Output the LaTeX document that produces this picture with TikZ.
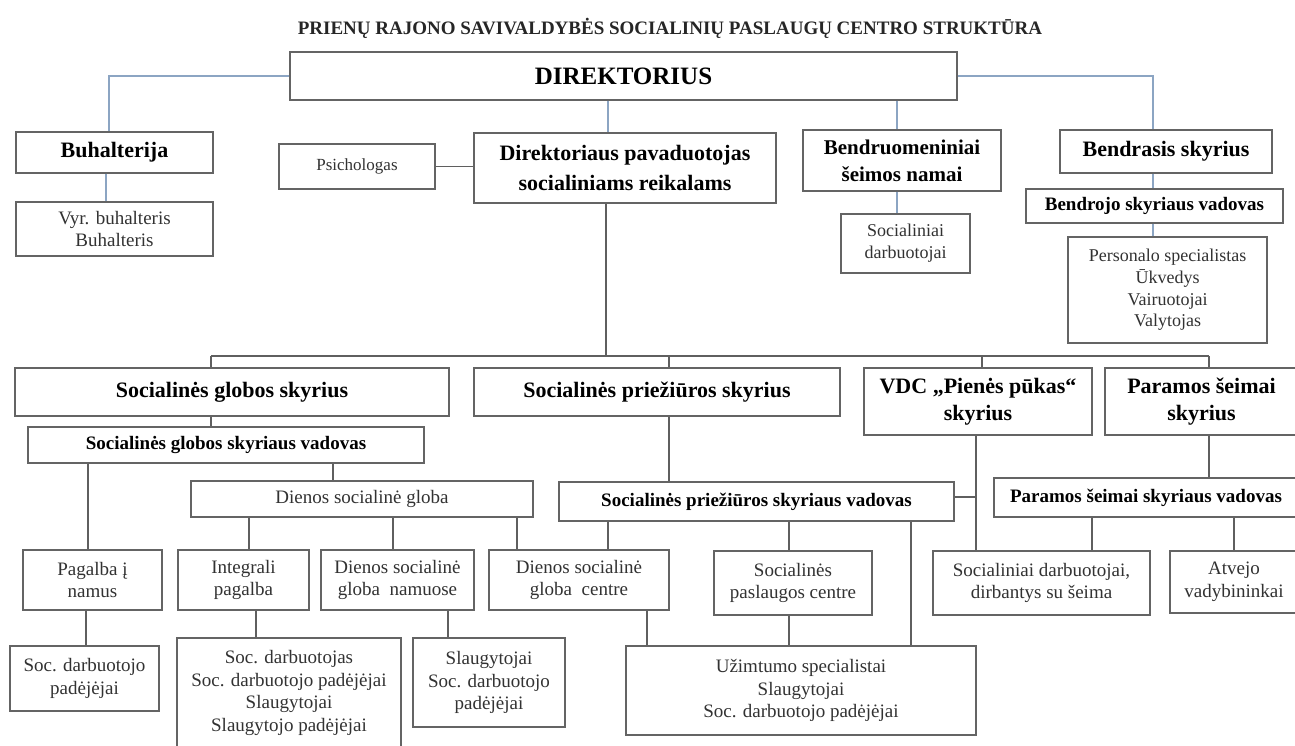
\documentclass[tikz,border=0pt]{standalone}
\usepackage{fontspec}
\setmainfont{Liberation Serif}
\definecolor{boxc}{RGB}{100,100,100}
\definecolor{linec}{RGB}{95,95,95}
\definecolor{bluec}{RGB}{140,165,195}
\definecolor{txtc}{RGB}{50,50,50}
\newcommand\bx[7]{\node[#6,minimum width={#4-#2},minimum height={#5-#3}] (#1) at ({(#2+#4)/2},{(#3+#5)/2}) {#7};}
\begin{document}
\begin{tikzpicture}[x=1pt,y=-1pt,
 box/.style={draw=boxc,line width=1.3pt,inner sep=0pt,align=center,text=txtc,font=\fontsize{19}{22.5}\selectfont},
 hb/.style={box,text=black,font=\fontsize{22}{28}\selectfont\bfseries},
 sb/.style={box,text=black,font=\fontsize{19}{22}\selectfont\bfseries},
 rb/.style={box},
 conn/.style={draw=linec,line width=1.2pt},
 bconn/.style={draw=bluec,line width=1.2pt}]
\useasboundingbox (0,0) rectangle (1295,746);
\fill[white] (0,0) rectangle (1295,746);
\node[font=\fontsize{19}{22}\selectfont\bfseries,text=black!85] (title) at (670,28) {PRIENŲ RAJONO SAVIVALDYBĖS SOCIALINIŲ PASLAUGŲ CENTRO STRUKTŪRA};
% boxes
\bx{dir}{290}{52}{957}{100}{box,text=black,font=\fontsize{25}{30}\selectfont\bfseries}{DIREKTORIUS}
\bx{buh}{16}{132}{213}{173}{hb}{Buhalterija}
\bx{vyr}{16}{202}{213}{256}{rb}{Vyr. buhalteris\\Buhalteris}
\bx{psi}{279}{144}{435}{189}{rb,font=\fontsize{17}{20}\selectfont}{Psichologas}
\bx{dp}{474}{133}{776}{203}{hb,font=\fontsize{22}{30}\selectfont\bfseries}{Direktoriaus pavaduotojas\\socialiniams reikalams}
\bx{ben}{803}{130}{1001}{191}{hb,font=\fontsize{21}{27}\selectfont\bfseries}{Bendruomeniniai\\šeimos namai}
\bx{socd}{841}{214}{970}{273}{rb,font=\fontsize{18}{22}\selectfont}{Socialiniai\\darbuotojai}
\bx{bs}{1060}{130}{1272}{173}{hb}{Bendrasis skyrius}
\bx{bsv}{1026}{189}{1283}{223}{sb}{Bendrojo skyriaus vadovas}
\bx{pers}{1068}{237}{1267}{343}{rb,font=\fontsize{18}{21.7}\selectfont}{Personalo specialistas\\Ūkvedys\\Vairuotojai\\Valytojas}
\bx{sgs}{15}{368}{449}{416}{hb}{Socialinės globos skyrius}
\bx{sps}{474}{368}{840}{416}{hb}{Socialinės priežiūros skyrius}
\bx{vdc}{864}{368}{1092}{435}{hb,font=\fontsize{22}{27}\selectfont\bfseries}{VDC „Pienės pūkas“\\skyrius}
\bx{par}{1105}{368}{1298}{435}{hb,font=\fontsize{22}{27}\selectfont\bfseries}{Paramos šeimai\\skyrius}
\bx{sgv}{28}{427}{424}{463}{sb}{Socialinės globos skyriaus vadovas}
\bx{dsg}{191}{481}{533}{517}{rb}{Dienos socialinė globa}
\bx{spv}{559}{482}{954}{521}{sb}{Socialinės priežiūros skyriaus vadovas}
\bx{pav}{994}{478}{1298}{517}{sb}{Paramos šeimai skyriaus vadovas}
\bx{pag}{23}{550}{162}{610}{rb}{Pagalba į\\namus}
\bx{int}{178}{550}{309}{610}{rb}{Integrali\\pagalba}
\bx{dsn}{321}{550}{474}{610}{rb}{Dienos socialinė\\globa~ namuose}
\bx{dsc}{489}{550}{669}{610}{rb}{Dienos socialinė\\globa~ centre}
\bx{spc}{714}{551}{872}{615}{rb}{Socialinės\\paslaugos centre}
\bx{sdsf}{933}{551}{1150}{615}{rb}{Socialiniai darbuotojai,\\dirbantys su šeima}
\bx{atv}{1170}{551}{1298}{613}{rb}{Atvejo\\vadybininkai}
\bx{sdp}{10}{646}{159}{711}{rb}{Soc. darbuotojo\\padėjėjai}
\bx{sdl}{177}{638}{401}{748}{rb}{Soc. darbuotojas\\Soc. darbuotojo padėjėjai\\Slaugytojai\\Slaugytojo padėjėjai}
\bx{slg}{413}{638}{565}{727}{rb}{Slaugytojai\\Soc. darbuotojo\\padėjėjai}
\bx{uzi}{626}{646}{976}{735}{rb}{Užimtumo specialistai\\Slaugytojai\\Soc. darbuotojo padėjėjai}
% helper coordinates
\foreach \v in {86,88,106,109,211,249,256,333,393,448,517,606,608,647,669,789,897,911,976,982,1092,1153,1209,1234}{\coordinate (x\v) at (\v,0);}
\coordinate (bus) at (0,356);
\coordinate (spvh) at (0,497);
% blue connectors
\draw[bconn] (dir.west) -- (dir.west -| x109) -- (buh.north -| x109);
\draw[bconn] (buh.south -| x106) -- (vyr.north -| x106);
\draw[bconn] (dir.south -| x608) -- (dp.north -| x608);
\draw[bconn] (dir.south -| x897) -- (ben.north -| x897);
\draw[bconn] (ben.south -| x897) -- (socd.north -| x897);
\draw[bconn] (dir.east) -- (dir.east -| x1153) -- (bs.north -| x1153);
\draw[bconn] (bs.south -| x1153) -- (bsv.north -| x1153);
\draw[bconn] (bsv.south -| x1153) -- (pers.north -| x1153);
% gray connectors
\draw[conn] (psi.east) -- (psi.east -| dp.west);
\draw[conn] (dp.south -| x606) -- (bus -| x606);
\draw[conn] (bus -| x211) -- (bus -| x1209);
\draw[conn] (bus -| x211) -- (sgs.north -| x211);
\draw[conn] (bus -| x669) -- (sps.north -| x669);
\draw[conn] (bus -| x982) -- (vdc.north -| x982);
\draw[conn] (bus -| x1209) -- (par.north -| x1209);
\draw[conn] (sgs.south -| x211) -- (sgv.north -| x211);
\draw[conn] (sgv.south -| x333) -- (dsg.north -| x333);
\draw[conn] (sgv.south -| x88) -- (pag.north -| x88);
\draw[conn] (dsg.south -| x249) -- (int.north -| x249);
\draw[conn] (dsg.south -| x393) -- (dsn.north -| x393);
\draw[conn] (dsg.south -| x517) -- (dsc.north -| x517);
\draw[conn] (sps.south -| x669) -- (spv.north -| x669);
\draw[conn] (spv.south -| x608) -- (dsc.north -| x608);
\draw[conn] (spv.south -| x789) -- (spc.north -| x789);
\draw[conn] (spv.south -| x911) -- (uzi.north -| x911);
\draw[conn] (dsc.south -| x647) -- (uzi.north -| x647);
\draw[conn] (spc.south -| x789) -- (uzi.north -| x789);
\draw[conn] (vdc.south -| x976) -- (sdsf.north -| x976);
\draw[conn] (spv.east |- spvh) -- (spvh -| x976);
\draw[conn] (par.south -| x1209) -- (pav.north -| x1209);
\draw[conn] (pav.south -| x1092) -- (sdsf.north -| x1092);
\draw[conn] (pav.south -| x1234) -- (atv.north -| x1234);
\draw[conn] (pag.south -| x86) -- (sdp.north -| x86);
\draw[conn] (int.south -| x256) -- (sdl.north -| x256);
\draw[conn] (dsn.south -| x448) -- (slg.north -| x448);
\end{tikzpicture}
\end{document}
